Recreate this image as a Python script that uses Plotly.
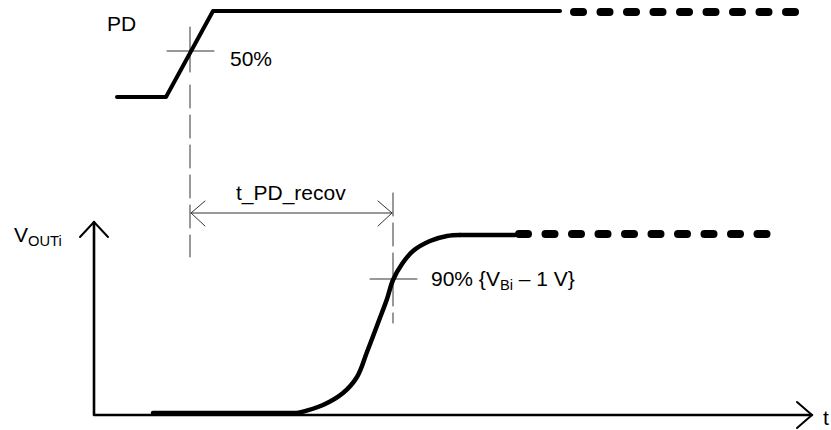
import plotly.graph_objects as go

# ---- data (diagram units: x = time position, y = level position, top-down) ----
pd_t = [117, 166, 213, 560]
pd_v = [97, 97, 11, 11]
pd_dash_t = [574, 796]
pd_dash_v = [12, 12]

vout_low_t = [153, 298]
vout_low_v = [413, 413]
vout_rise_t = [298, 323, 343, 357, 367, 378, 387, 393, 402, 413, 430, 447, 460]
vout_rise_v = [413, 405, 393, 377, 352, 323, 299, 280, 264, 251, 241, 236, 235]
vout_high_t = [460, 515]
vout_high_v = [235, 235]
vout_dash_t = [519, 768]
vout_dash_v = [234, 234]

axis_x = [812, 94, 94]
axis_y = [415, 415, 222]
xarrow_x = [797, 812, 797]
xarrow_y = [402, 415, 428]
yarrow_x = [80, 94, 108]
yarrow_y = [237, 222, 237]

cross1_h_x = [167, 214]; cross1_h_y = [51, 51]
cross1_v_x = [190, 190]; cross1_v_y = [27, 72]
guide1_x = [190, 190]; guide1_y = [85, 257]
cross2_h_x = [370, 417]; cross2_h_y = [279, 279]
guide2_x = [393, 393]; guide2_y = [193, 323]

span_x = [191, 392]; span_y = [213, 213]
lhead_x = [205, 191, 205]; lhead_y = [201, 213, 226]
rhead_x = [378, 392, 378]; rhead_y = [201, 213, 226]

labels = ["PD", "50%", "t_PD_recov", "90% {V<sub>Bi</sub> – 1 V}", "V<sub>OUTi</sub>", "t"]
label_x = [105, 228, 291, 429, 12, 821]
label_y = [23, 58, 193, 280, 236, 417]
label_anchor = ["left", "left", "center", "left", "left", "left"]

FONT = "Liberation Sans, Arial, Helvetica, sans-serif"
THIN = "#333333"

fig = go.Figure()

def line(x, y, width, color="black", dash="solid", shape="linear"):
    fig.add_trace(go.Scatter(x=x, y=y, mode="lines", hoverinfo="skip",
                             line=dict(width=width, color=color, dash=dash, shape=shape)))

# axes
line(axis_x, axis_y, 2.6)
line(xarrow_x, xarrow_y, 2)
line(yarrow_x, yarrow_y, 2)

# thin guides
line(cross1_h_x, cross1_h_y, 1, THIN)
line(cross1_v_x, cross1_v_y, 1, THIN)
line(guide1_x, guide1_y, 1, THIN, dash="23px,7px")
line(cross2_h_x, cross2_h_y, 1, THIN)
line(guide2_x, guide2_y, 1, THIN, dash="23px,7px")
line(span_x, span_y, 1, THIN)
line(lhead_x, lhead_y, 1, THIN)
line(rhead_x, rhead_y, 1, THIN)

# waveforms
line(pd_t, pd_v, 4)
line(pd_dash_t, pd_dash_v, 8, dash="9px,17.5px")
line(vout_low_t, vout_low_v, 4.5)
line(vout_rise_t, vout_rise_v, 4.5, shape="spline")
line(vout_high_t, vout_high_v, 4.5)
line(vout_dash_t, vout_dash_v, 8, dash="9px,17.5px")

for txt, x, y, a in zip(labels, label_x, label_y, label_anchor):
    fig.add_annotation(x=x, y=y, text=txt, showarrow=False, xanchor=a, yanchor="middle",
                       font=dict(family=FONT, size=21, color="black"))

fig.update_layout(
    width=831, height=430, margin=dict(l=0, r=0, t=0, b=0),
    paper_bgcolor="white", plot_bgcolor="white", showlegend=False,
    xaxis=dict(range=[0, 831], visible=False, fixedrange=True),
    yaxis=dict(range=[430, 0], visible=False, fixedrange=True),
)

post = ("var s=document.createElement('style');"
        "s.innerHTML='html,body{margin:0;padding:0;overflow:hidden;}"
        ".js-line{stroke-linecap:round;stroke-linejoin:round;}';"
        "document.head.appendChild(s);")
fig.write_html("out.html", post_script=post, config={"displayModeBar": False})
